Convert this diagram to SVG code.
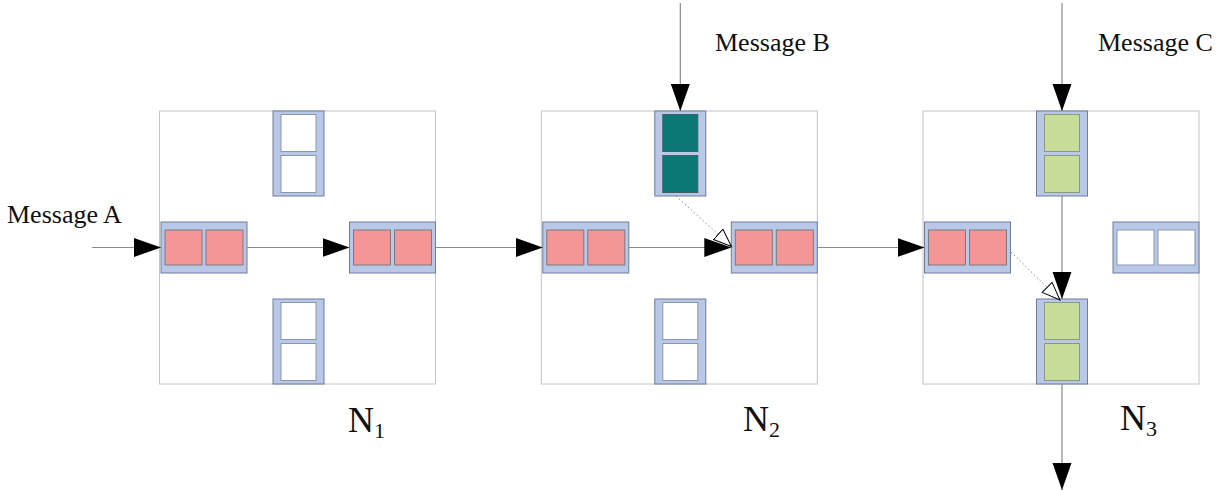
<svg xmlns="http://www.w3.org/2000/svg" width="1225" height="490" viewBox="0 0 1225 490">
  <style>
    .router { fill: #ffffff; stroke: #c4c4c4; stroke-width: 1; }
    .port { fill: #b9c8e6; stroke: #6e7d99; stroke-width: 1; }
    .cell { stroke: #7c8494; stroke-width: 1; }
    .empty { fill: #ffffff; stroke: #8a96ae; }
    .red { fill: #f49596; stroke: #7d7a80; }
    .teal { fill: #0b7876; stroke: #3e5e68; }
    .green { fill: #c7dd9a; stroke: #8a9a7a; }
    .link { fill: none; stroke: #8a8a8a; stroke-width: 1.2; }
    .dotted { fill: none; stroke: #8a8a8a; stroke-width: 1; stroke-dasharray: 1.5 2.5; }
    .label { font-family: "Liberation Serif", "Times New Roman", serif; fill: #111111; }
  </style>
  <defs>
    <!-- horizontal input buffer: two slots side by side -->
    <g id="hport">
      <rect class="port" x="0" y="0" width="86" height="51"/>
    </g>
    <!-- vertical input buffer: two slots stacked -->
    <g id="vport">
      <rect class="port" x="0" y="0" width="51" height="85"/>
    </g>
    <marker id="solid" markerUnits="userSpaceOnUse" markerWidth="28" markerHeight="20" refX="27" refY="9.5" orient="auto">
      <path d="M0,0 L27,9.5 L0,19 Z" fill="#000000"/>
    </marker>
    <marker id="hollow" markerUnits="userSpaceOnUse" markerWidth="20" markerHeight="16" refX="18.5" refY="7.5" orient="auto">
      <path d="M0.5,0.5 L18.5,7.5 L0.5,14.5 Z" fill="#ffffff" stroke="#000000" stroke-width="1"/>
    </marker>
  </defs>

  <!-- Router N1 -->
  <g id="router-n1" transform="translate(159.5,111)">
    <rect class="router" x="0" y="0" width="276" height="273"/>
    <g transform="translate(113.5,0)">
      <use href="#vport"/>
      <rect class="cell empty" x="8" y="3.5" width="35" height="37"/>
      <rect class="cell empty" x="8" y="44.5" width="35" height="37"/>
    </g>
    <g transform="translate(113.5,188)">
      <use href="#vport"/>
      <rect class="cell empty" x="8" y="3.5" width="35" height="37"/>
      <rect class="cell empty" x="8" y="44.5" width="35" height="37"/>
    </g>
    <g transform="translate(1.5,111)">
      <use href="#hport"/>
      <rect class="cell red" x="4" y="8" width="37" height="35"/>
      <rect class="cell red" x="45" y="8" width="37" height="35"/>
    </g>
    <g transform="translate(190,111)">
      <use href="#hport"/>
      <rect class="cell red" x="4" y="8" width="37" height="35"/>
      <rect class="cell red" x="45" y="8" width="37" height="35"/>
    </g>
  </g>

  <!-- Router N2 -->
  <g id="router-n2" transform="translate(541.3,111)">
    <rect class="router" x="0" y="0" width="276" height="273"/>
    <g transform="translate(113.5,0)">
      <use href="#vport"/>
      <rect class="cell teal" x="8" y="3.5" width="35" height="37"/>
      <rect class="cell teal" x="8" y="44.5" width="35" height="37"/>
    </g>
    <g transform="translate(113.5,188)">
      <use href="#vport"/>
      <rect class="cell empty" x="8" y="3.5" width="35" height="37"/>
      <rect class="cell empty" x="8" y="44.5" width="35" height="37"/>
    </g>
    <g transform="translate(1.5,111)">
      <use href="#hport"/>
      <rect class="cell red" x="4" y="8" width="37" height="35"/>
      <rect class="cell red" x="45" y="8" width="37" height="35"/>
    </g>
    <g transform="translate(190,111)">
      <use href="#hport"/>
      <rect class="cell red" x="4" y="8" width="37" height="35"/>
      <rect class="cell red" x="45" y="8" width="37" height="35"/>
    </g>
  </g>

  <!-- Router N3 -->
  <g id="router-n3" transform="translate(923,111)">
    <rect class="router" x="0" y="0" width="276" height="273"/>
    <g transform="translate(113.5,0)">
      <use href="#vport"/>
      <rect class="cell green" x="8" y="3.5" width="35" height="37"/>
      <rect class="cell green" x="8" y="44.5" width="35" height="37"/>
    </g>
    <g transform="translate(113.5,188)">
      <use href="#vport"/>
      <rect class="cell green" x="8" y="3.5" width="35" height="37"/>
      <rect class="cell green" x="8" y="44.5" width="35" height="37"/>
    </g>
    <g transform="translate(1.5,111)">
      <use href="#hport"/>
      <rect class="cell red" x="4" y="8" width="37" height="35"/>
      <rect class="cell red" x="45" y="8" width="37" height="35"/>
    </g>
    <g transform="translate(190,111)">
      <use href="#hport"/>
      <rect class="cell empty" x="4" y="8" width="37" height="35"/>
      <rect class="cell empty" x="45" y="8" width="37" height="35"/>
    </g>
  </g>

  <!-- Message paths -->
  <g id="connectors">
    <line class="link" x1="92" y1="247.5" x2="161" y2="247.5" marker-end="url(#solid)"/>
    <line class="link" x1="247" y1="247.5" x2="349.5" y2="247.5" marker-end="url(#solid)"/>
    <line class="link" x1="435.5" y1="247.5" x2="542.8" y2="247.5" marker-end="url(#solid)"/>
    <line class="link" x1="628.8" y1="247.5" x2="731.3" y2="247.5" marker-end="url(#solid)"/>
    <line class="link" x1="817.3" y1="247.5" x2="924.5" y2="247.5" marker-end="url(#solid)"/>
    <line class="link" x1="680.3" y1="3" x2="680.3" y2="111" marker-end="url(#solid)"/>
    <line class="link" x1="1062" y1="3" x2="1062" y2="111" marker-end="url(#solid)"/>
    <line class="link" x1="1062" y1="196" x2="1062" y2="299" marker-end="url(#solid)"/>
    <line class="link" x1="1062" y1="384" x2="1062" y2="490" marker-end="url(#solid)"/>
    <line class="dotted" x1="676" y1="196" x2="731.5" y2="246.5" marker-end="url(#hollow)"/>
    <line class="dotted" x1="1011" y1="252" x2="1060" y2="300" marker-end="url(#hollow)"/>
  </g>

  <!-- Labels -->
  <g id="labels">
    <text class="label" x="7" y="223" font-size="26">Message A</text>
    <text class="label" x="715" y="51" font-size="26">Message B</text>
    <text class="label" x="1098" y="51" font-size="26">Message C</text>
    <text class="label" x="348" y="432" font-size="36">N<tspan font-size="22" dy="6">1</tspan></text>
    <text class="label" x="743" y="431" font-size="36">N<tspan font-size="22" dy="6">2</tspan></text>
    <text class="label" x="1120" y="430" font-size="36">N<tspan font-size="22" dy="6">3</tspan></text>
  </g>
</svg>
